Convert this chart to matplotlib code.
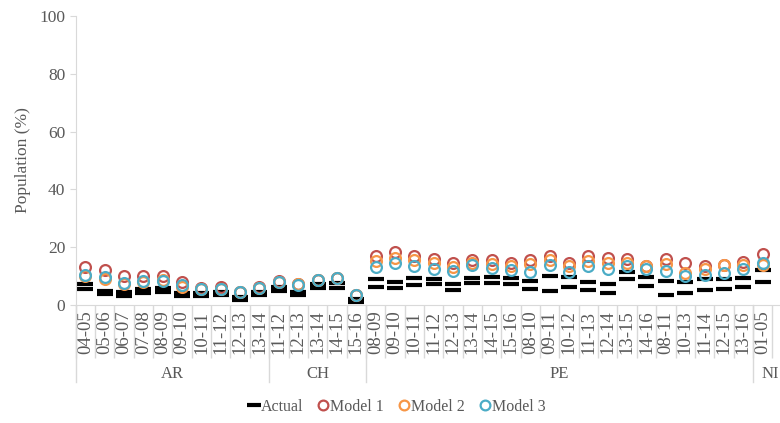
import matplotlib
matplotlib.use("Agg")
import matplotlib.pyplot as plt
import numpy as np

plt.rcParams['font.family'] = ['Liberation Serif', 'DejaVu Serif']

# seasons per country, in drawing order
groups = ["AR", "CH", "PE", "NI"]
seasons_ar = ["04-05", "05-06", "06-07", "07-08", "08-09", "09-10", "10-11", "11-12", "12-13", "13-14"]
seasons_ch = ["11-12", "12-13", "13-14", "14-15", "15-16"]
seasons_pe = ["08-09", "09-10", "10-11", "11-12", "12-13", "13-14", "14-15", "15-16",
              "08-10", "09-11", "10-12", "11-13", "12-14", "13-15", "14-16",
              "08-11", "10-13", "11-14", "12-15", "13-16"]
seasons_ni = ["01-05"]
group_seasons = [seasons_ar, seasons_ch, seasons_pe, seasons_ni]
labels = seasons_ar + seasons_ch + seasons_pe + seasons_ni

# actual population, two reported values per season
actual_hi = [7.2, 4.9, 4.4, 5.6, 6.0, 4.2, 4.0, 4.6, 2.6, 4.6,
             6.3, 4.6, 7.3, 7.5, 2.0,
             8.9, 8.0, 9.2, 9.0, 7.2, 9.4, 9.8, 9.2, 8.3, 10.0, 9.6, 7.8, 7.1, 11.3, 9.8,
             8.2, 7.8, 9.0, 9.0, 9.2,
             12.1]
actual_lo = [5.6, 3.7, 3.1, 4.2, 4.6, 3.1, 3.1, 3.6, 1.7, 3.4,
             4.9, 3.4, 5.8, 6.0, 1.1,
             6.3, 6.0, 6.9, 7.1, 5.2, 7.5, 7.5, 7.2, 5.5, 4.8, 6.3, 5.2, 4.2, 8.9, 6.6,
             3.4, 4.0, 5.2, 5.5, 6.1,
             8.0]
model1 = [13.2, 12.1, 10.0, 10.0, 10.0, 8.0, 6.0, 6.1, 4.5, 6.2,
          8.3, 7.3, 8.7, 9.5, 3.4,
          17.0, 18.2, 17.0, 15.9, 14.7, 15.5, 15.5, 14.6, 15.5, 17.0, 14.7, 17.0, 16.3, 15.9, 13.6,
          16.0, 14.6, 13.4, 13.8, 14.9,
          17.6]
model2 = [10.0, 9.1, 7.1, 7.9, 8.5, 6.3, 5.6, 5.6, 4.4, 6.0,
          8.1, 7.2, 8.7, 9.4, 3.4,
          15.2, 16.4, 15.5, 14.4, 13.2, 14.4, 14.1, 13.4, 14.1, 15.5, 13.6, 15.3, 14.4, 14.6, 13.4,
          14.2, 11.2, 12.3, 13.8, 14.0,
          13.8]
model3 = [10.3, 9.7, 7.7, 8.4, 8.2, 6.8, 5.7, 5.5, 4.4, 6.0,
          8.0, 6.9, 8.7, 9.4, 3.4,
          13.2, 14.7, 13.4, 12.5, 11.7, 13.7, 12.8, 12.1, 11.5, 13.8, 11.3, 13.4, 12.6, 13.4, 12.3,
          11.8, 10.0, 10.3, 11.2, 12.3,
          14.7]

x = np.arange(len(labels))
grey_text = "#595959"
grey_line = "#D9D9D9"

fig = plt.figure(figsize=(7.8, 4.23), dpi=100)
ax = fig.add_axes([0.097, 0.279, 0.903, 0.683])

dash = dict(linestyle="none", marker="_", markersize=11, markeredgewidth=3, color="black")
ax.plot(x, actual_hi, label="Actual", **dash)
ax.plot(x, actual_lo, **dash)
ring = dict(linestyle="none", marker="o", markersize=7.8, markerfacecolor="none", markeredgewidth=1.6)
ax.plot(x, model1, markeredgecolor="#C0504D", label="Model 1", **ring)
ax.plot(x, model2, markeredgecolor="#F79646", label="Model 2", **ring)
ax.plot(x, model3, markeredgecolor="#4BACC6", label="Model 3", **ring)

ax.set_ylim(0, 100)
ax.set_xlim(-0.5, 35.9)
ax.set_yticks(range(0, 101, 20))
ax.set_ylabel("Population (%)", color=grey_text, fontsize=12.5, labelpad=6)

ax.set_xticks(x)
ax.set_xticklabels(labels, rotation=90, fontsize=13.5, color=grey_text)
ax.set_xticks(np.arange(len(labels) + 1) - 0.5, minor=True)
ax.tick_params(axis="x", which="major", length=0, pad=4)
ax.tick_params(axis="x", which="minor", length=38, color=grey_line, width=1)
ax.tick_params(axis="y", length=4, color=grey_line, labelsize=12.5, labelcolor=grey_text)

for side in ["top", "right"]:
    ax.spines[side].set_visible(False)
ax.spines["left"].set_color(grey_line)
ax.spines["bottom"].set_color(grey_line)

# country separators and labels under the season labels
start = 0
for name, seas in zip(groups, group_seasons):
    ax.axvline(start - 0.5, ymin=-0.268, ymax=0, color=grey_line, lw=1, clip_on=False)
    centre = start + (len(seas) - 1) / 2
    if name == "NI":
        centre += 0.4
    ax.text(centre, -0.238, name, transform=ax.get_xaxis_transform(), ha="center", va="center",
            fontsize=12, color=grey_text, clip_on=False)
    start += len(seas)

ax.legend(loc="lower center", bbox_to_anchor=(0.455, -0.43), ncol=4, frameon=False, fontsize=11.5,
          handletextpad=0.0, columnspacing=0.8, labelcolor=grey_text, handlelength=0.9,
          markerscale=0.9)

fig.savefig("out.png", dpi=100)
